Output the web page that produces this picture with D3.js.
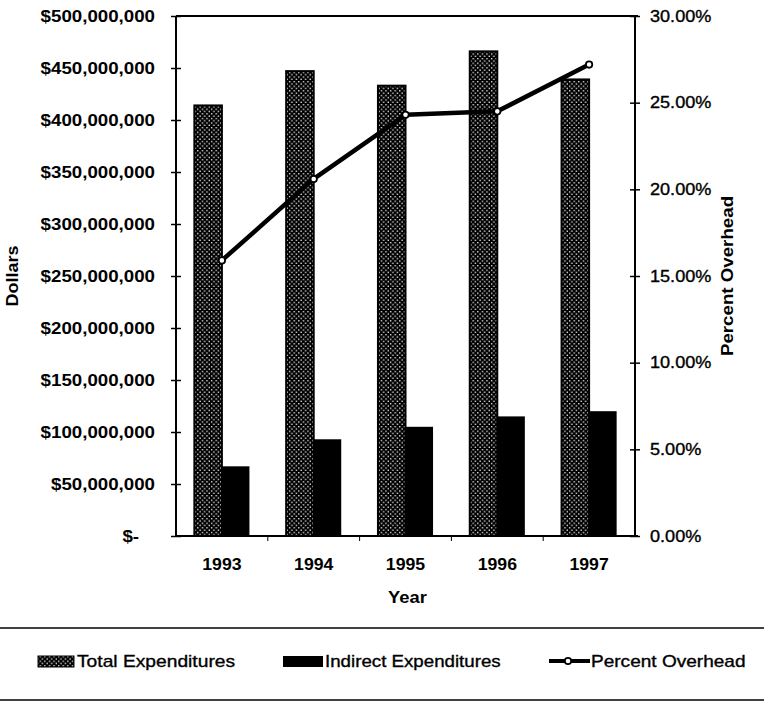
<!DOCTYPE html>
<html>
<head>
<meta charset="utf-8">
<script src="https://cdn.jsdelivr.net/npm/d3@7"></script>
<style>
  body { margin: 0; background: #fff; }
  svg { display: block; }
  text { font-family: "Liberation Sans", Arial, sans-serif; fill: #000; }
  .heavy { stroke: #000; stroke-width: 0.35px; }
</style>
</head>
<body>
<svg id="chart" width="764" height="714"></svg>
<script>
// Expenditures and overhead by fiscal year
const years = ["1993", "1994", "1995", "1996", "1997"];
const totalExpenditures = [414e6, 447e6, 433e6, 466e6, 439e6];
const indirectExpenditures = [67e6, 93e6, 105e6, 115e6, 120e6];
const percentOverhead = [15.9, 20.6, 24.3, 24.5, 27.2];

const dollarTicks = [0, 50e6, 100e6, 150e6, 200e6, 250e6, 300e6, 350e6, 400e6, 450e6, 500e6];
const percentTicks = [0, 5, 10, 15, 20, 25, 30];
const seriesNames = ["Total Expenditures", "Indirect Expenditures", "Percent Overhead"];

const svg = d3.select("#chart");
const plotLeft = 176, plotRight = 635, plotTop = 16, plotBottom = 536;

// Widen glyphs horizontally by a factor (the typeface runs a bit wide)
function widen(sel, factor) {
  sel.each(function () {
    const w = this.getComputedTextLength();
    this.setAttribute("textLength", (w * factor).toFixed(1));
    this.setAttribute("lengthAdjust", "spacingAndGlyphs");
  });
}

// Dotted fill for the total bars
const defs = svg.append("defs");
const pat = defs.append("pattern")
  .attr("id", "dots").attr("patternUnits", "userSpaceOnUse")
  .attr("width", 4.6).attr("height", 4.6);
pat.append("rect").attr("width", 4.6).attr("height", 4.6).attr("fill", "#000");
pat.append("rect").attr("x", 0.5).attr("y", 0.5).attr("width", 1.3).attr("height", 1.3).attr("fill", "#fff");
pat.append("rect").attr("x", 2.8).attr("y", 2.8).attr("width", 1.3).attr("height", 1.3).attr("fill", "#fff");

const x0 = d3.scaleBand().domain(years).range([plotLeft, plotRight]).paddingInner(0.4).paddingOuter(0.2);
const x1 = d3.scaleBand().domain(["total", "indirect"]).range([0, x0.bandwidth()]);
const y = d3.scaleLinear().domain([0, 500e6]).range([plotBottom, plotTop]);
const y2 = d3.scaleLinear().domain([0, 30]).range([plotBottom, plotTop]);

// Bars
const groups = svg.append("g").selectAll("g").data(years).join("g")
  .attr("transform", d => `translate(${x0(d)},0)`);
groups.append("rect")
  .attr("x", x1("total")).attr("width", x1.bandwidth())
  .attr("y", (d, i) => y(totalExpenditures[i]))
  .attr("height", (d, i) => y(0) - y(totalExpenditures[i]))
  .attr("fill", "url(#dots)").attr("stroke", "#000").attr("stroke-width", 2);
groups.append("rect")
  .attr("x", x1("indirect")).attr("width", x1.bandwidth())
  .attr("y", (d, i) => y(indirectExpenditures[i]))
  .attr("height", (d, i) => y(0) - y(indirectExpenditures[i]))
  .attr("fill", "#000");

// Frame: top border, baseline, both vertical axes
const frame = svg.append("g").attr("stroke", "#000").attr("stroke-width", 2);
frame.append("line").attr("x1", plotLeft).attr("x2", plotRight + 3).attr("y1", plotTop).attr("y2", plotTop);
frame.append("line").attr("x1", plotLeft).attr("x2", plotRight + 3).attr("y1", plotBottom).attr("y2", plotBottom);
frame.append("line").attr("x1", plotLeft).attr("x2", plotLeft).attr("y1", plotTop).attr("y2", plotBottom);
frame.append("line").attr("x1", plotRight).attr("x2", plotRight).attr("y1", plotTop).attr("y2", plotBottom);

// Small category separators under the baseline
svg.append("g").selectAll("line").data(years.slice(1)).join("line")
  .attr("x1", d => x0(d) - x0.step() * x0.paddingInner() / 2)
  .attr("x2", d => x0(d) - x0.step() * x0.paddingInner() / 2)
  .attr("y1", plotBottom).attr("y2", plotBottom + 5)
  .attr("stroke", "#000").attr("stroke-width", 1);

// Left dollar axis
const leftAxis = svg.append("g").attr("transform", `translate(${plotLeft},0)`)
  .call(d3.axisLeft(y).tickValues(dollarTicks).tickSize(5).tickPadding(16)
    .tickFormat(v => v === 0 ? "$-" : "$" + d3.format(",")(v)));
leftAxis.select(".domain").remove();
leftAxis.selectAll(".tick line").attr("x1", -5).attr("x2", 5).attr("stroke-width", 1.5);
leftAxis.selectAll(".tick text")
  .style("font-size", "17px").style("font-weight", "bold")
  .attr("dx", v => v === 0 ? -16 : 0)
  .call(widen, 1.1);

// Right percent axis
const rightAxis = svg.append("g").attr("transform", `translate(${plotRight},0)`)
  .call(d3.axisRight(y2).tickValues(percentTicks).tickSize(5).tickPadding(10)
    .tickFormat(v => d3.format(".2f")(v) + "%"));
rightAxis.select(".domain").remove();
rightAxis.selectAll(".tick line").attr("x1", -5).attr("x2", 5).attr("stroke-width", 1.5);
rightAxis.selectAll(".tick text")
  .attr("class", "heavy").style("font-size", "16px")
  .call(widen, 1.13);

// Year labels
const bottomAxis = svg.append("g").attr("transform", `translate(0,${plotBottom})`)
  .call(d3.axisBottom(x0).tickSize(0).tickPadding(22));
bottomAxis.select(".domain").remove();
bottomAxis.selectAll(".tick text")
  .style("font-size", "17px").style("font-weight", "bold")
  .call(widen, 1.04);

// Axis titles
svg.append("text").attr("x", (plotLeft + plotRight) / 2 + 2).attr("y", 603)
  .attr("text-anchor", "middle").style("font-size", "17px").style("font-weight", "bold")
  .text("Year").call(widen, 1.08);
svg.append("text").attr("transform", `translate(18,${(plotTop + plotBottom) / 2}) rotate(-90)`)
  .attr("text-anchor", "middle").style("font-size", "16px").style("font-weight", "bold")
  .text("Dollars").call(widen, 1.12);
svg.append("text").attr("transform", `translate(733,${(plotTop + plotBottom) / 2}) rotate(-90)`)
  .attr("text-anchor", "middle").style("font-size", "17px").style("font-weight", "bold")
  .text("Percent Overhead").call(widen, 1.1);

// Overhead line
const cx = (d) => x0(d) + x0.bandwidth() / 2;
const line = d3.line().x((d, i) => cx(years[i])).y(d => y2(d));
svg.append("path").datum(percentOverhead).attr("d", line)
  .attr("fill", "none").attr("stroke", "#000").attr("stroke-width", 4.5)
  .attr("stroke-linejoin", "round");
svg.append("g").selectAll("circle").data(percentOverhead).join("circle")
  .attr("cx", (d, i) => cx(years[i])).attr("cy", d => y2(d)).attr("r", 3.2)
  .attr("fill", "#fff").attr("stroke", "#000").attr("stroke-width", 1.8);

// Legend box rules
const legend = svg.append("g");
legend.append("line").attr("x1", 0).attr("x2", 764).attr("y1", 628).attr("y2", 628)
  .attr("stroke", "#000").attr("stroke-width", 1.5);
legend.append("line").attr("x1", 0).attr("x2", 764).attr("y1", 700).attr("y2", 700)
  .attr("stroke", "#000").attr("stroke-width", 1.5);

legend.append("rect").attr("x", 38).attr("y", 656).attr("width", 36).attr("height", 11)
  .attr("fill", "url(#dots)").attr("stroke", "#000").attr("stroke-width", 1);
legend.append("text").attr("x", 77).attr("y", 667).attr("class", "heavy")
  .style("font-size", "17px").text(seriesNames[0]).call(widen, 1.13);

legend.append("rect").attr("x", 283).attr("y", 656).attr("width", 40).attr("height", 11)
  .attr("fill", "#000");
legend.append("text").attr("x", 325).attr("y", 667).attr("class", "heavy")
  .style("font-size", "17px").text(seriesNames[1]).call(widen, 1.1);

legend.append("line").attr("x1", 549).attr("x2", 590).attr("y1", 661).attr("y2", 661)
  .attr("stroke", "#000").attr("stroke-width", 4);
legend.append("circle").attr("cx", 568).attr("cy", 661).attr("r", 3.2)
  .attr("fill", "#fff").attr("stroke", "#000").attr("stroke-width", 1.8);
legend.append("text").attr("x", 591).attr("y", 667).attr("class", "heavy")
  .style("font-size", "17px").text(seriesNames[2]).call(widen, 1.12);
</script>
</body>
</html>
